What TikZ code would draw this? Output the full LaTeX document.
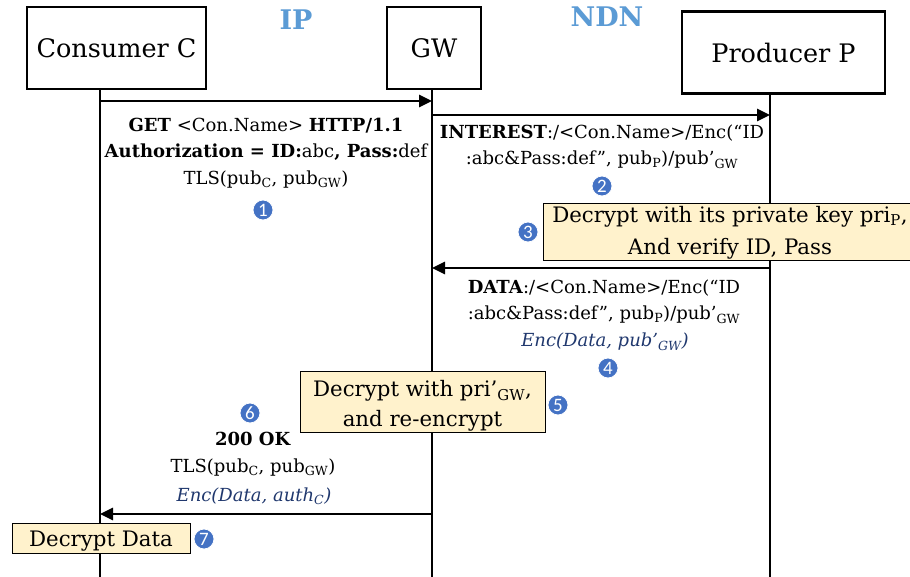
\documentclass[tikz,border=0pt]{standalone}
\usepackage{fontspec}
\setmainfont{DejaVu Serif}
\newfontfamily\numfont{Carlito}
\usetikzlibrary{arrows.meta}

\definecolor{labelblue}{HTML}{5B9BD5}
\definecolor{stepblue}{HTML}{4472C4}
\definecolor{encblue}{RGB}{32,56,110}
\definecolor{notefill}{HTML}{FFF2CC}

\newcommand\fsz[2]{\fontsize{#1}{#2}\selectfont}
% invisible strut that sets the height of a note's first line
\newcommand\topstrut[1]{\rule{0pt}{#1}}

\begin{document}
\begin{tikzpicture}[x=1pt,y=-1pt,
  actor/.style={draw,line width=2.6pt,minimum height=82pt,inner sep=0pt,font=\fsz{25.5}{30}},
  lifeline/.style={line width=2.6pt},
  msg/.style={line width=2.6pt,-{Triangle[length=13pt,width=12pt]}},
  netlabel/.style={text=labelblue,font=\bfseries\fsz{27}{30}},
  msgtext/.style={align=center,inner sep=0pt,font=\fsz{18}{26.5}},
  enc/.style={text=encblue,font=\itshape\fsz{18}{26.5}},
  note/.style={draw,line width=1pt,fill=notefill,inner sep=0pt,align=center,font=\fsz{21.3}{#1}},
  note/.default=31,
  stepnum/.style={circle,fill=stepblue,draw=white,line width=0.8pt,text=white,inner sep=0pt,minimum size=20pt,font=\numfont\fsz{19}{20}}
]
\clip (0,0) rectangle (910,576);
\fill[white] (0,0) rectangle (910,576);

% participants
\node[actor,minimum width=179pt] (cons) at (116.5,48) {Consumer C};
\node[actor,minimum width=94pt] (gw) at (434,48) {GW};
\node[actor,minimum width=203pt] (prod) at (783.5,52.5) {Producer P};

\node[netlabel] (ip) at (296,20) {IP};
\node[netlabel] (ndn) at (607,17) {NDN};

% lifelines
\coordinate (cend) at (100,580);
\coordinate (gend) at (432,580);
\coordinate (pend) at (770,580);
\draw[lifeline] (cons.south -| cend) -- (cend);
\draw[lifeline] (gw.south -| gend) -- (gend);
\draw[lifeline] (prod.south -| pend) -- (pend);

% anchor points of the messages on the lifelines
\coordinate (c1) at (100,101);
\coordinate (g1) at (432,101);
\coordinate (g2) at (432,115);
\coordinate (p2) at (770,115);
\coordinate (p3) at (770,268);
\coordinate (g3) at (432,268);
\coordinate (g4) at (432,514);
\coordinate (c4) at (100,514);

\draw[msg] (c1) -- (g1);
\draw[msg] (g2) -- (p2);
\draw[msg] (p3) -- (g3);
\draw[msg] (g4) -- (c4);

% step 1: HTTP request
\node[msgtext] (m1) at (266,153) {\textbf{GET} <Con.Name> \textbf{HTTP/1.1}\\
  \textbf{Authorization = ID:}abc\textbf{, Pass:}def\\
  TLS(pub\textsubscript{C}, pub\textsubscript{GW})};
\node[stepnum] (s1) at (263,210) {1};

% step 2: interest
\node[msgtext] (m2) at (602,146.5) {\textbf{INTEREST}:/<Con.Name>/Enc(“ID\\
  :abc\&Pass:def”, pub\textsubscript{P})/pub’\textsubscript{GW}};
\node[stepnum] (s2) at (602,186) {2};

% step 3: producer checks credentials
\node[note=32,minimum width=374pt,minimum height=57pt] (n3) at (730,231.5) {\topstrut{18pt}Decrypt with its private key pri\textsubscript{P},\\And verify ID, Pass};
\node[stepnum] (s3) at (528,232) {3};

% step 4: data
\node[msgtext] (m3) at (604,301.5) {\textbf{DATA}:/<Con.Name>/Enc(“ID\\
  :abc\&Pass:def”, pub\textsubscript{P})/pub’\textsubscript{GW}};
\node[enc] (e3) at (605,342) {Enc(Data, pub’\textsubscript{GW})};
\node[stepnum] (s4) at (608,368) {4};

% step 5: gateway re-encrypts
\node[note=30,minimum width=245pt,minimum height=61pt] (n5) at (422.5,401.5) {\topstrut{24pt}Decrypt with pri’\textsubscript{GW},\\and re-encrypt};
\node[stepnum] (s5) at (558,405) {5};

% step 6: HTTP response
\node[stepnum] (s6) at (250,413) {6};
\node[msgtext] (m4) at (253,454) {\textbf{200 OK}\\TLS(pub\textsubscript{C}, pub\textsubscript{GW})};
\node[enc] (e4) at (254,496) {Enc(Data, auth\textsubscript{C})};

% step 7: consumer decrypts
\node[note,minimum width=178pt,minimum height=30pt] (n7) at (101,538) {\topstrut{22pt}Decrypt Data};
\node[stepnum] (s7) at (204,539) {7};
\end{tikzpicture}
\end{document}
